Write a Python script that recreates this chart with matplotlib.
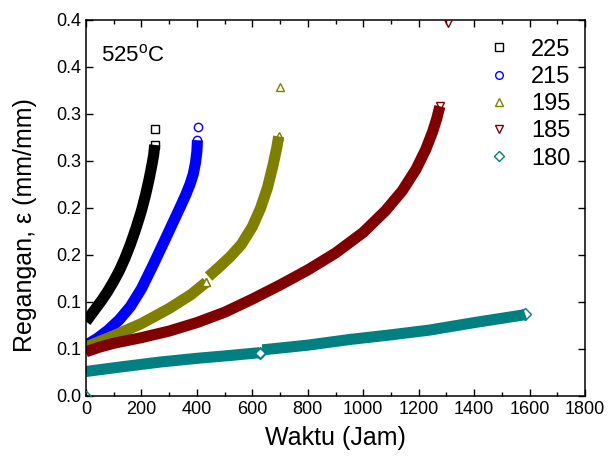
import numpy as np
import matplotlib.pyplot as plt
from matplotlib.lines import Line2D

plt.rcParams['font.family'] = 'Liberation Sans'
plt.rcParams['mathtext.fontset'] = 'custom'
plt.rcParams['mathtext.rm'] = 'Liberation Sans'

# --- data (time in hours, strain in mm/mm) ---
labels = ['225', '215', '195', '185', '180']
colors = ['black', '#0000ff', '#808000', '#800000', '#008080']
markers = ['s', 'o', '^', 'v', 'D']

t_225 = [0, 20, 40, 60, 80, 100, 120, 140, 160, 180, 200, 215, 228, 238, 244, 248]
v_225 = [0.079, 0.087, 0.095, 0.103, 0.112, 0.122, 0.133, 0.146, 0.161, 0.178, 0.197, 0.214, 0.231, 0.246, 0.256, 0.267]

t_215 = [0, 40, 80, 120, 160, 200, 240, 280, 310, 340, 360, 375, 387, 395, 400, 402]
v_215 = [0.054, 0.061, 0.070, 0.081, 0.095, 0.114, 0.138, 0.163, 0.182, 0.201, 0.214, 0.225, 0.236, 0.248, 0.260, 0.272]

t_195a = [0, 100, 200, 300, 380, 434]
v_195a = [0.052, 0.064, 0.077, 0.093, 0.108, 0.121]
t_195b = [442, 480, 520, 560, 600, 630, 655, 675, 688, 695]
v_195b = [0.127, 0.137, 0.148, 0.161, 0.180, 0.200, 0.222, 0.246, 0.264, 0.276]

t_185 = [0, 50, 100, 200, 300, 400, 500, 600, 700, 800, 900, 1000, 1080, 1140, 1190, 1225, 1250, 1265, 1276]
v_185 = [0.047, 0.052, 0.056, 0.062, 0.069, 0.078, 0.089, 0.103, 0.118, 0.134, 0.152, 0.174, 0.197, 0.218, 0.241, 0.262, 0.281, 0.295, 0.308]

t_180a = [0, 130, 266, 400, 518, 626]
v_180a = [0.026, 0.031, 0.036, 0.040, 0.043, 0.046]
t_180b = [636, 800, 950, 1100, 1238, 1400, 1574, 1584]
v_180b = [0.049, 0.054, 0.060, 0.065, 0.070, 0.078, 0.086, 0.087]

# last isolated readings of the first four tests, and the stray 180 point at the origin
end_t = [250, 404, 698, 1307]
end_v = [0.284, 0.286, 0.329, 0.397]
origin_t = [0]
origin_v = [0.0]

yticks = [0.0, 0.05, 0.10, 0.15, 0.20, 0.25, 0.30, 0.35, 0.40]
ytick_labels = ['0.0', '0.1', '0.1', '0.2', '0.2', '0.3', '0.3', '0.4', '0.4']

segments = [
    (t_225, v_225, 0),
    (t_215, v_215, 1),
    (t_195a, v_195a, 2),
    (t_195b, v_195b, 2),
    (t_185, v_185, 3),
    (t_180a, v_180a, 4),
    (t_180b, v_180b, 4),
]

fig = plt.figure(figsize=(6.14, 4.62), dpi=100)
ax = fig.add_axes([0.140, 0.143, 0.813, 0.814])

# dense readings merge into a solid band
for t, v, i in segments:
    ax.plot(t, v, '-', color=colors[i], lw=8, solid_capstyle='butt', solid_joinstyle='round', zorder=2)
    ax.plot(t[-1], v[-1], ls='none', marker=markers[i], ms=6, mfc='none', mec=colors[i], zorder=3)

# break points where the record restarts (white inside)
ax.plot(t_195a[-1], v_195a[-1], marker='^', ms=6, mfc='white', mec=colors[2], zorder=4)
ax.plot(t_180a[-1], v_180a[-1], marker='D', ms=5, mfc='white', mec=colors[4], zorder=4)

for i in range(4):
    ax.plot(end_t[i], end_v[i], ls='none', marker=markers[i], ms=6, mfc='none', mec=colors[i], zorder=4)
ax.plot(origin_t, origin_v, ls='none', marker='D', ms=5, mfc='none', mec=colors[4], zorder=4)

ax.set_xlim(0, 1800)
ax.set_ylim(0, 0.4)
ax.set_xticks(np.arange(0, 1801, 200))
ax.set_xticks(np.arange(0, 1801, 100), minor=True)
ax.set_yticks(yticks)
ax.set_yticklabels(ytick_labels)
ax.tick_params(which='both', direction='in', top=True, right=True, labelsize=13, width=1)
ax.tick_params(which='major', length=5)
ax.tick_params(which='minor', length=3)
for s in ax.spines.values():
    s.set_linewidth(1.1)

ax.set_xlabel('Waktu (Jam)', fontsize=18, labelpad=6)
ax.set_ylabel('Regangan, ε (mm/mm)', fontsize=18)
ax.yaxis.set_label_coords(-0.098, 0.455)
ax.text(0.03, 0.905, '525$^{\\mathrm{o}}$C', transform=ax.transAxes, fontsize=16, va='center')

handles = [Line2D([], [], ls='none', marker=markers[i], ms=5.5, mfc='none', mec=colors[i]) for i in range(5)]
ax.legend(handles, labels, loc='upper right', frameon=False, fontsize=17,
          handlelength=1, handletextpad=0.85, labelspacing=0.22, borderaxespad=0.4,
          bbox_to_anchor=(1.008, 1.0))

plt.savefig('out.png', dpi=100)
